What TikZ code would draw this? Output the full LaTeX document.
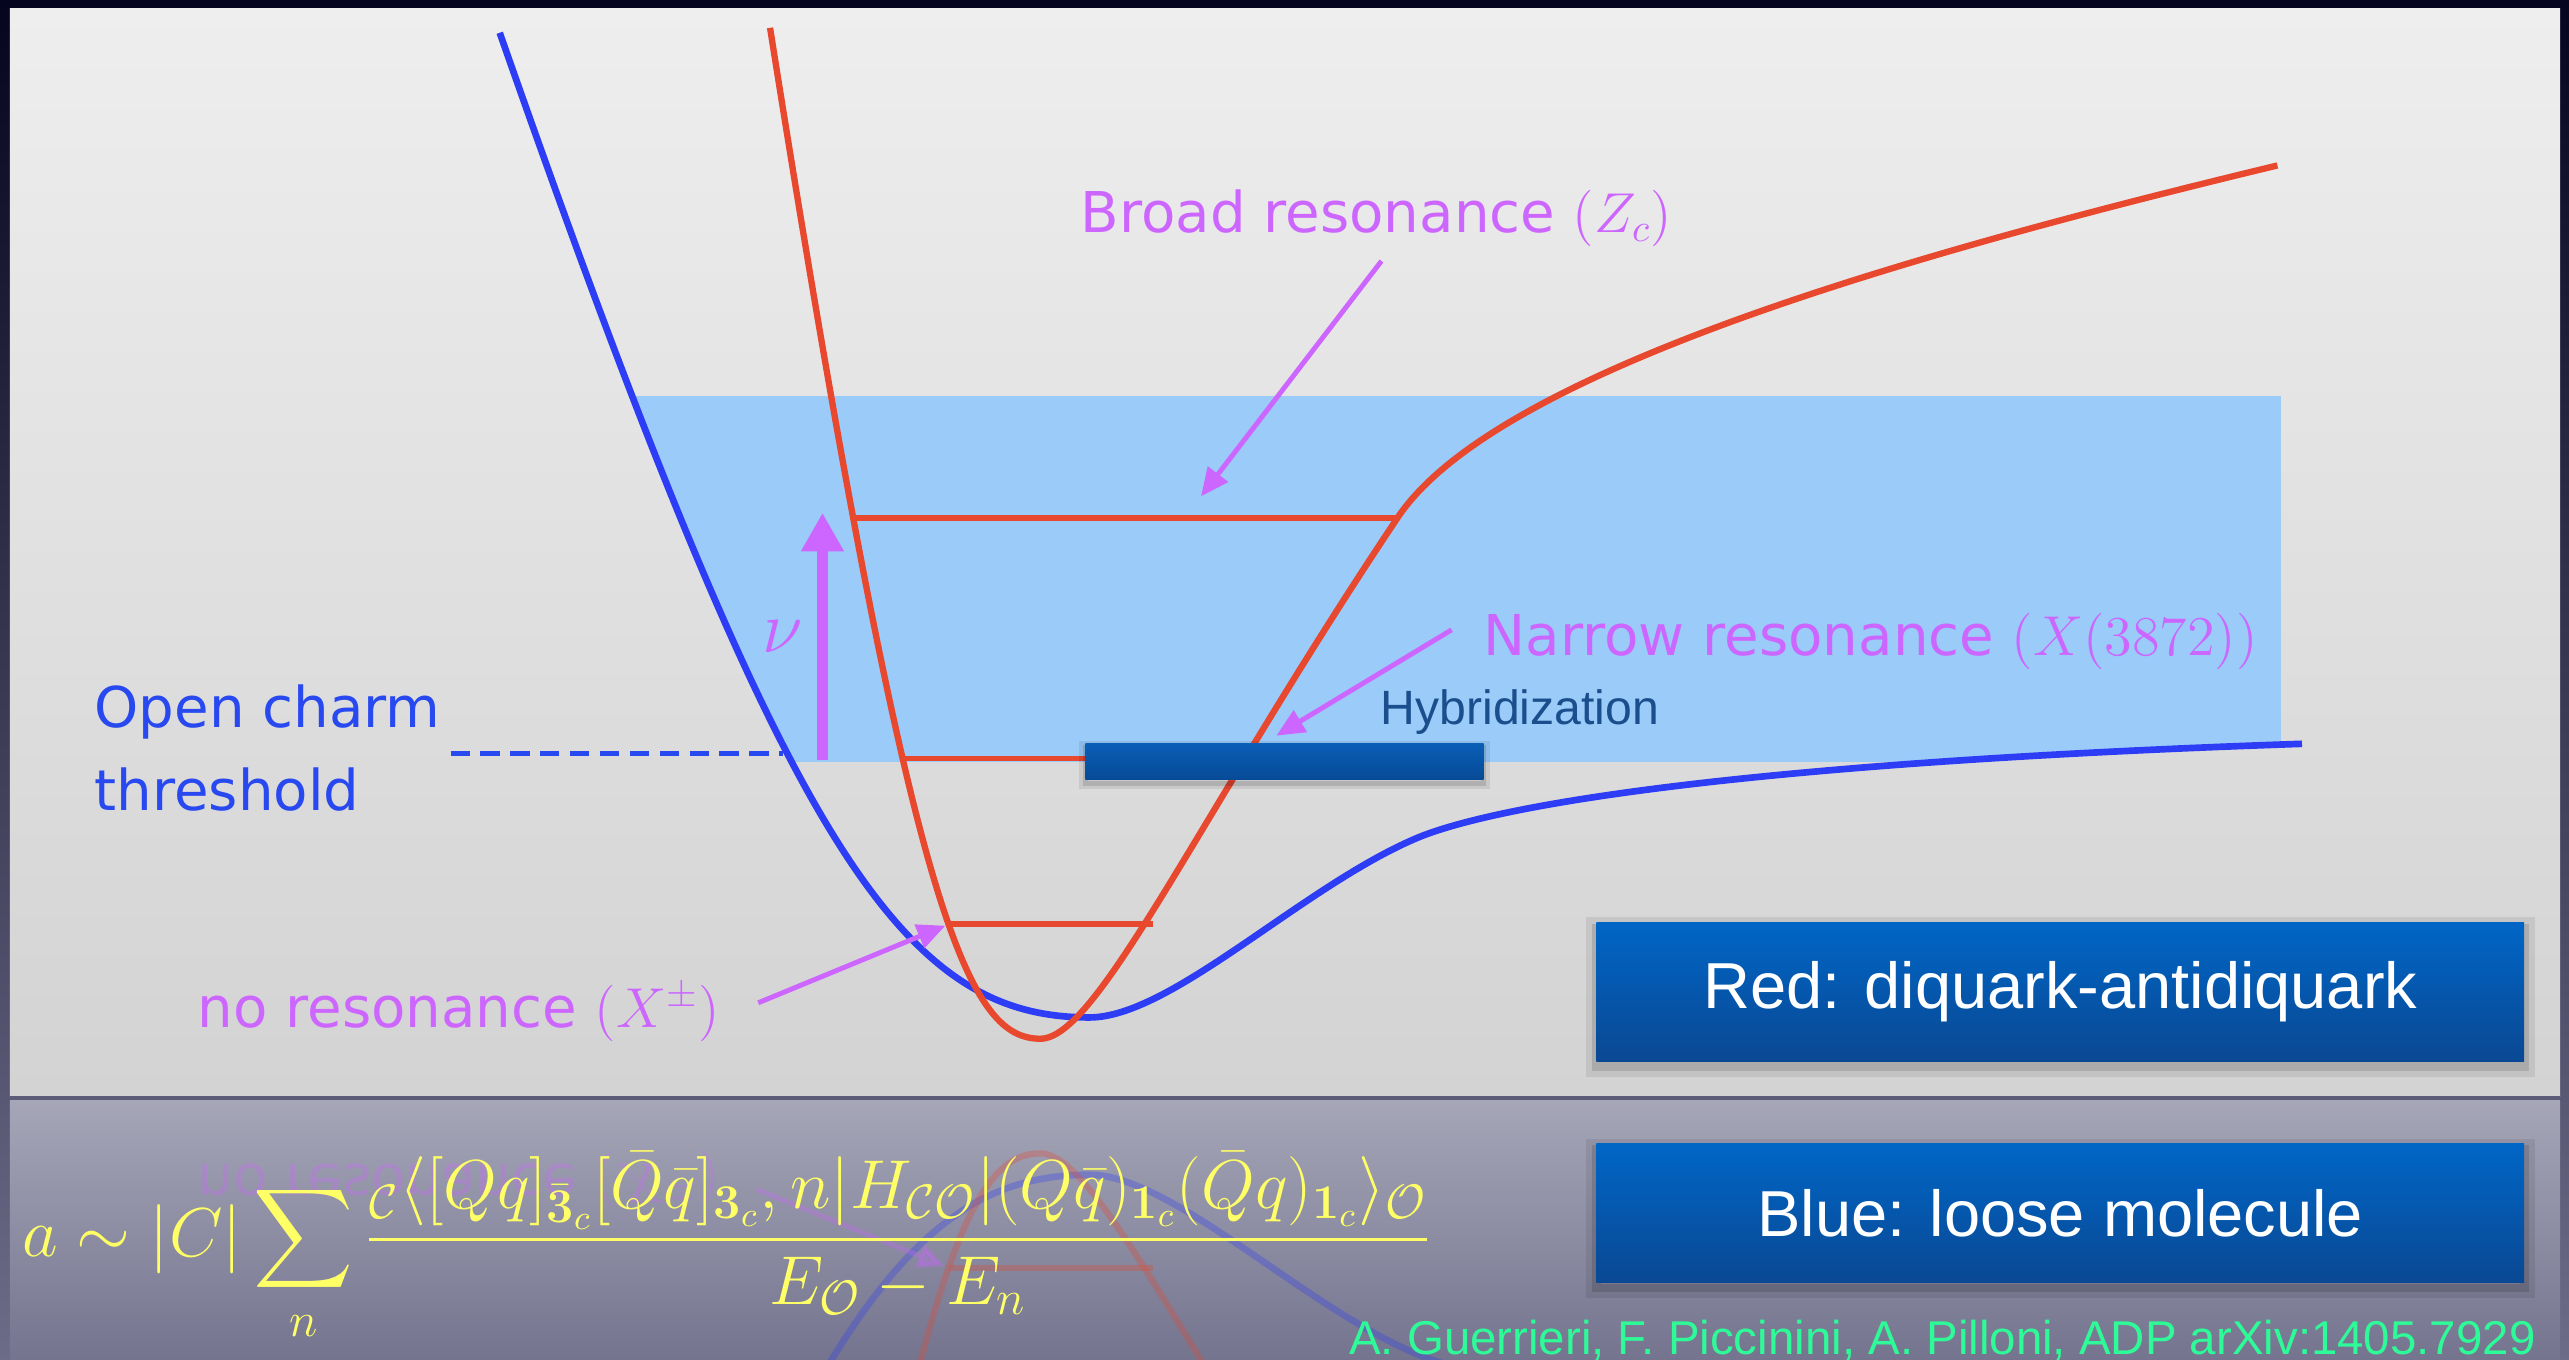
\RequirePackage{fix-cm}
\documentclass[tikz,border=0pt]{standalone}
\usepackage{amsmath,amssymb}
\usepackage[no-math]{fontspec}
\setmainfont{Liberation Sans}
\newfontfamily\verdfont{DejaVu Sans}
\usetikzlibrary{positioning,arrows.meta,calc}
\definecolor{framenavy}{HTML}{05051F}
\definecolor{framegray}{HTML}{6C6C88}
\definecolor{paneltop}{HTML}{EEEEEE}
\definecolor{panelbot}{HTML}{D3D3D3}
\definecolor{sepgray}{HTML}{5C5C78}
\definecolor{refltop}{HTML}{A6A6B8}
\definecolor{reflbot}{HTML}{74748F}
\definecolor{bandblue}{HTML}{9ACBF9}
\definecolor{curveblue}{HTML}{2D3CF5}
\definecolor{curvered}{HTML}{E8482E}
\definecolor{orchid}{HTML}{CC66FF}
\definecolor{charmblue}{HTML}{2848F0}
\definecolor{hybblue}{HTML}{1B4E8C}
\definecolor{boxtop}{HTML}{0066C6}
\definecolor{boxbot}{HTML}{0A4893}
\definecolor{bartop}{HTML}{0A5EB6}
\definecolor{barbot}{HTML}{064A96}
\definecolor{formyellow}{HTML}{FFFF66}
\definecolor{citegreen}{HTML}{2EFA98}
\tikzset{
  >={Stealth},
  potblue/.style={draw=curveblue, line width=1.9pt},
  potred/.style={draw=curvered, line width=1.8pt},
  level/.style={draw=curvered, line width=1.6pt},
  lbl/.style={font=\verdfont\fontsize{16}{19}\selectfont, text=orchid, inner sep=2pt},
  lblarrow/.style={draw=orchid, line width=1.4pt, -{Triangle[width=7pt,length=8pt]}},
  boxshadow/.style={preaction={draw=black, opacity=.08, line width=6pt, transform canvas={yshift=-1.5pt}},
                    preaction={draw=black, opacity=.12, line width=2.5pt, transform canvas={yshift=-1.5pt}}},
  barshadow/.style={preaction={draw=black, opacity=.08, line width=3.5pt, transform canvas={yshift=-1pt}},
                    preaction={draw=black, opacity=.12, line width=1.5pt, transform canvas={yshift=-1pt}}},
  keybox/.style={rectangle, boxshadow, top color=boxtop, bottom color=boxbot, text=white,
                 font=\fontsize{18.5}{22}\selectfont, minimum width=264pt, minimum height=39.5pt, inner sep=0pt},
  hbar/.style={rectangle, barshadow, top color=bartop, bottom color=barbot,
               minimum width=113.3pt, minimum height=10.2pt, inner sep=0pt}
}
% the two potentials, in units of the slide grid
\newcommand\bluecurve{(305,20) .. controls (480,520) and (550,621) .. (665,621)
  .. controls (715,621) and (796,540) .. (866,511) .. controls (910,493) and (1050,466) .. (1405,454)}
\newcommand\redcurve{(470,17) .. controls (556,560) and (590,634) .. (635,634)
  .. controls (670,634) and (730,500) .. (853,316) .. controls (913,226) and (1170,154) .. (1390,101)}

\begin{document}
\begin{tikzpicture}[x=0.016384cm, y=-0.016384cm]
\useasboundingbox (0,0) rectangle (1568,830);
% slide frame and panels
\shade[top color=framenavy, bottom color=framegray] (0,0) rectangle (1568,830);
\shade[top color=paneltop, bottom color=panelbot] (6,5.5) rectangle (1562.5,669);
\fill[sepgray] (6,669) rectangle (1562.5,671.5);
\shade[top color=refltop, bottom color=reflbot] (6,671.5) rectangle (1562.5,830);
% mirror image of the well bottom
\begin{scope}
  \clip (6,671.5) rectangle (1562.5,830);
  \begin{scope}[shift={(0,1338)}, yscale=-1, opacity=0.3]
    \draw[potblue] \bluecurve;
    \draw[potred] \redcurve;
    \draw[level] (579,564) -- (704,564);
    \node[lbl, anchor=base west, transform shape] (noresR) at (116,627) {no resonance $(X^{\pm})$};
    \coordinate (xpmTailR) at (462,612);
    \coordinate (xpmTipR) at (577,565);
    \draw[lblarrow] (xpmTailR) -- (xpmTipR);
  \end{scope}
\end{scope}
% continuum band inside the blue well
\begin{scope}
  \clip \bluecurve -- (1405,0) -- (305,0) -- cycle;
  \fill[bandblue] (383,242) rectangle (1392,465);
\end{scope}
% threshold
\draw[charmblue, line width=1.5pt, dash pattern=on 5.5pt off 3pt] (275,460) -- (478,460);
\node[lbl, text=charmblue, align=left, anchor=base west, font=\verdfont\fontsize{16}{23.7}\selectfont]
  (thresh) at (53,495) {Open charm\\threshold};
% levels and potentials
\draw[level] (520,316) -- (853,316);
\draw[level] (551,463) -- (760,463);
\draw[level] (579,564) -- (704,564);
\draw[potblue] \bluecurve;
\draw[potred] \redcurve;
\node[hbar] (bar) at (784,465) {};
% nu arrow
\coordinate (nuBase) at (502,464);
\coordinate (nuTip) at (502,313);
\draw[orchid, line width=3pt, -{Triangle[width=11.5pt,length=11pt]}] (nuBase) --
  node[left=4pt, text=orchid, font=\fontsize{21}{24}\selectfont, inner sep=0pt] (nu) {$\nu$} (nuTip);
% labels
\node[lbl, anchor=base west] (broad) at (655,142) {Broad resonance $(Z_c)$};
\node[lbl, anchor=base west] (narrow) at (901,400) {Narrow resonance $(X(3872))$};
\node[lbl, anchor=base west] (nores) at (116,627) {no resonance $(X^{\pm})$};
\node[anchor=base west, text=hybblue, font=\fontsize{13.7}{16}\selectfont, inner sep=2pt] (hyb) at (838,442) {Hybridization};
\coordinate (zcTip) at (733,303);
\coordinate (xTip) at (779,449);
\coordinate (xpmTip) at (577,565);
\draw[lblarrow] ($(broad.south)+(3,4)$) -- (zcTip);
\draw[lblarrow] ($(narrow.west)+(-15,-7)$) -- (xTip);
\draw[lblarrow] ($(nores.east)+(18.5,-6)$) -- (xpmTip);
% legend boxes
\node[keybox] (redkey) at (1257.5,605.5) {Red: diquark-antidiquark};
\node[keybox] (bluekey) at (1257.5,740.5) {Blue: loose molecule};
% amplitude and reference
\node[anchor=base west, text=formyellow, font=\fontsize{19.7}{24}\selectfont, inner sep=0pt] (ampl) at (13,767)
  {$\displaystyle a\sim|C|\sum_n\frac{{}_{\mathcal{C}}\langle[Qq]_{\bar{\mathbf{3}}_c}[\bar Q\bar q]_{\mathbf{3}_c},n|H_{\mathcal{CO}}|(Q\bar q)_{\mathbf{1}_c}(\bar Q q)_{\mathbf{1}_c}\rangle_{\mathcal{O}}}{E_{\mathcal{O}}-E_n}$};
\node[anchor=base east, text=citegreen, font=\fontsize{13.5}{16}\selectfont, inner sep=0pt] (cite) at (1548,827)
  {A. Guerrieri, F. Piccinini, A. Pilloni, ADP arXiv:1405.7929};
\end{tikzpicture}
\end{document}
